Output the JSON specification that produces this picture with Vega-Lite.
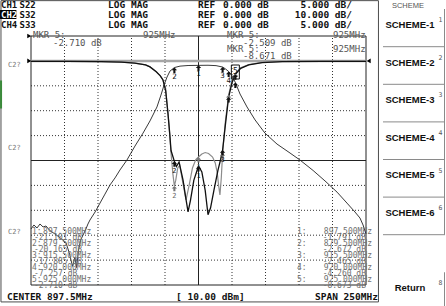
{
"$schema":"https://vega.github.io/schema/vega-lite/v6.json",
"width":446,"height":306,"autosize":"none","padding":0,"background":"white",
"config":{"view":{"stroke":null},"text":{"font":"DejaVu Sans Mono"}},
"datasets":{
"s22":[{"f":772.5,"db":-0.1},{"f":800,"db":-0.1},{"f":825,"db":-0.14},{"f":840,"db":-0.25},{"f":850,"db":-0.45},{"f":858,"db":-0.8},{"f":861.3,"db":-1.2},{"f":866,"db":-2.2},{"f":869,"db":-3.0},{"f":871,"db":-3.84},{"f":873,"db":-6.0},{"f":874.7,"db":-10.5},{"f":876,"db":-14.5},{"f":877,"db":-18.0},{"f":879.5,"db":-20.165,"m":2},{"f":881,"db":-21.2},{"f":883,"db":-20.3},{"f":886,"db":-24.0},{"f":888,"db":-27.5},{"f":889.7,"db":-30.3},{"f":891.5,"db":-28.0},{"f":894,"db":-24.0},{"f":897.5,"db":-21.101,"m":1},{"f":900,"db":-22.3},{"f":902.5,"db":-26.0},{"f":904.6,"db":-30.9},{"f":906.5,"db":-29.5},{"f":909,"db":-26.0},{"f":912,"db":-22.0},{"f":914,"db":-19.8},{"f":915.5,"db":-17.885,"m":3},{"f":917.5,"db":-13.0},{"f":920,"db":-7.257,"m":4},{"f":922.5,"db":-4.4},{"f":925,"db":-2.71,"m":5},{"f":929,"db":-1.5},{"f":935,"db":-0.8},{"f":945,"db":-0.35},{"f":960,"db":-0.15},{"f":990,"db":-0.1},{"f":1022.5,"db":-0.1}],
"s33":[{"f":772.5,"db":-0.1},{"f":800,"db":-0.1},{"f":825,"db":-0.14},{"f":840,"db":-0.25},{"f":850,"db":-0.45},{"f":858,"db":-0.8},{"f":861.3,"db":-1.2},{"f":866,"db":-2.2},{"f":869,"db":-3.0},{"f":871,"db":-3.84},{"f":873,"db":-5.5},{"f":874,"db":-8.5},{"f":875.5,"db":-13.0},{"f":877,"db":-18.5},{"f":878.5,"db":-23.0},{"f":879.5,"db":-25.1,"m":2},{"f":880.5,"db":-24.0},{"f":882,"db":-21.5},{"f":883.5,"db":-21.0},{"f":885.5,"db":-24.0},{"f":888.2,"db":-27.9},{"f":890.5,"db":-25.0},{"f":893,"db":-21.5},{"f":895.5,"db":-19.8},{"f":897.5,"db":-19.3,"m":1},{"f":900,"db":-18.7},{"f":902.5,"db":-18.4},{"f":905,"db":-18.6},{"f":908,"db":-19.3},{"f":910,"db":-20.5},{"f":911.5,"db":-22.5},{"f":912.5,"db":-25.0},{"f":913.5,"db":-26.9},{"f":914.5,"db":-23.5},{"f":915.5,"db":-18.5,"m":3},{"f":917.5,"db":-12.3},{"f":920,"db":-6.8,"m":4},{"f":922.5,"db":-3.9},{"f":925,"db":-2.509,"m":5},{"f":929,"db":-1.4},{"f":935,"db":-0.75},{"f":945,"db":-0.3},{"f":960,"db":-0.12},{"f":990,"db":-0.1},{"f":1022.5,"db":-0.1}],
"s32":[{"f":772.5,"db":-67.5},{"f":774.7,"db":-65.9},{"f":777,"db":-67.1},{"f":779.2,"db":-65.5},{"f":781.5,"db":-66.7},{"f":783.7,"db":-66.3},{"f":786.7,"db":-68.2},{"f":790.4,"db":-69.5},{"f":794.1,"db":-71.0},{"f":798.6,"db":-73.0},{"f":801,"db":-77.0},{"f":803.5,"db":-82.5},{"f":805.3,"db":-79.0},{"f":806.5,"db":-83.0},{"f":808,"db":-76.0},{"f":809.5,"db":-72.0},{"f":811.3,"db":-70.0},{"f":813.5,"db":-67.5},{"f":815,"db":-65.5},{"f":816.5,"db":-63.9},{"f":820.3,"db":-60.7},{"f":824,"db":-57.1},{"f":827.7,"db":-53.5},{"f":831.5,"db":-49.8},{"f":835.2,"db":-47.0},{"f":838.9,"db":-43.8},{"f":844.1,"db":-39.8},{"f":850.1,"db":-34.2},{"f":856.1,"db":-29.0},{"f":861.3,"db":-24.1},{"f":866.5,"db":-18.5},{"f":869.5,"db":-13.7},{"f":871.8,"db":-9.7},{"f":874,"db":-6.5},{"f":876.2,"db":-4.1},{"f":879.5,"db":-2.672,"m":2},{"f":883.7,"db":-2.1},{"f":889.7,"db":-1.85},{"f":897.5,"db":-1.791,"m":1},{"f":904.6,"db":-1.75},{"f":910.6,"db":-1.9},{"f":915.5,"db":-2.465,"m":3},{"f":917.6,"db":-3.2},{"f":920,"db":-4.26,"m":4},{"f":922.5,"db":-6.0},{"f":925,"db":-8.673,"m":5},{"f":928.5,"db":-13.3},{"f":933.7,"db":-18.5},{"f":939.7,"db":-23.7},{"f":947.1,"db":-29.0},{"f":956.1,"db":-33.4},{"f":965.8,"db":-37.0},{"f":973.2,"db":-39.8},{"f":983,"db":-44.0},{"f":991.9,"db":-48.2},{"f":1000.9,"db":-52.7},{"f":1008.3,"db":-57.1},{"f":1014.3,"db":-60.7},{"f":1018,"db":-63.1},{"f":1020.3,"db":-65.9},{"f":1022.5,"db":-69.5}],
"header":[{"line":1,"ch":"CH1","par":"S22","fmt":"LOG MAG","rl":"REF","ref":"0.000 dB","sc":"5.000 dB/","active":false},{"line":2,"ch":"CH2","par":"S32","fmt":"LOG MAG","rl":"REF","ref":"0.000 dB","sc":"10.000 dB/","active":true},{"line":3,"ch":"CH4","par":"S33","fmt":"LOG MAG","rl":"REF","ref":"0.000 dB","sc":"5.000 dB/","active":false}],
"listL":[{"n":1,"k":"1:","f":"897.500MHz","v":"-21.101 dB"},{"n":2,"k":"2:","f":"879.500MHz","v":"-20.165 dB"},{"n":3,"k":"3:","f":"915.500MHz","v":"-17.885 dB"},{"n":4,"k":"4:","f":"920.000MHz","v":"-7.257 dB"},{"n":5,"k":"5:","f":"925.000MHz","v":"-2.710 dB"}],
"listR":[{"n":1,"k":"1:","f":"897.500MHz","v":"-1.791 dB"},{"n":2,"k":"2:","f":"879.500MHz","v":"-2.672 dB"},{"n":3,"k":"3:","f":"915.500MHz","v":"-2.465 dB"},{"n":4,"k":"4:","f":"920.000MHz","v":"-4.260 dB"},{"n":5,"k":"5:","f":"925.000MHz","v":"-8.673 dB"}],
"keys":[{"slot":1,"label":"SCHEME-1","key":"1"},{"slot":2,"label":"SCHEME-2","key":"2"},{"slot":3,"label":"SCHEME-3","key":"3"},{"slot":4,"label":"SCHEME-4","key":"4"},{"slot":5,"label":"SCHEME-5","key":"5"},{"slot":6,"label":"SCHEME-6","key":"6"},{"slot":8,"label":"Return","key":"8"}],
"vgrid":[{"f":797.5},{"f":822.5},{"f":847.5},{"f":872.5},{"f":922.5},{"f":947.5},{"f":972.5},{"f":997.5}],
"hgrid":[{"db":-5},{"db":-10},{"db":-15},{"db":-25},{"db":-30},{"db":-35},{"db":-40}]
},
"layer":[
{"layer":[
 {"layer":[
  {"data":{"values":[{"part":"screen"}]},"mark":{"type":"rect","filled":false,"color":"#4d4d4d","strokeWidth":1},"encoding":{"x":{"datum":750.1,"type":"quantitative","scale":{"domain":[772.5,1022.5],"range":[31,366],"nice":false,"zero":false},"axis":null},"x2":{"datum":1031.8},"y":{"datum":12.1,"type":"quantitative","scale":{"domain":[-45,5],"range":[285,36],"nice":false,"zero":false},"axis":null},"y2":{"datum":-48.4}}},
  {"data":{"values":[{"part":"tab"}]},"mark":{"type":"rect","color":"#3a8a3a"},"encoding":{"x":{"datum":749.4,"type":"quantitative","scale":{"domain":[772.5,1022.5],"range":[31,366],"nice":false,"zero":false},"axis":null},"x2":{"datum":750.9},"y":{"datum":-3.96,"type":"quantitative","scale":{"domain":[-45,5],"range":[285,36],"nice":false,"zero":false},"axis":null},"y2":{"datum":-9.56}}},
  {"data":{"name":"vgrid"},"mark":{"type":"rule","color":"#333","strokeDash":[1,2],"strokeWidth":1},"encoding":{"x":{"field":"f","type":"quantitative","scale":{"domain":[772.5,1022.5],"range":[31,366],"nice":false,"zero":false},"axis":null},"y":{"datum":-45,"type":"quantitative","scale":{"domain":[-45,5],"range":[285,36],"nice":false,"zero":false},"axis":null},"y2":{"datum":5}}},
  {"data":{"name":"hgrid"},"mark":{"type":"rule","color":"#333","strokeDash":[1,2],"strokeWidth":1},"encoding":{"y":{"field":"db","type":"quantitative","scale":{"domain":[-45,5],"range":[285,36],"nice":false,"zero":false},"axis":null},"x":{"datum":772.5,"type":"quantitative","scale":{"domain":[772.5,1022.5],"range":[31,366],"nice":false,"zero":false},"axis":null},"x2":{"datum":1022.5}}},
  {"data":{"values":[{"f":897.5}]},"mark":{"type":"rule","color":"#222","strokeWidth":1},"encoding":{"x":{"field":"f","type":"quantitative","scale":{"domain":[772.5,1022.5],"range":[31,366],"nice":false,"zero":false},"axis":null},"y":{"datum":-45,"type":"quantitative","scale":{"domain":[-45,5],"range":[285,36],"nice":false,"zero":false},"axis":null},"y2":{"datum":5}}},
  {"data":{"values":[{"db":-20}]},"mark":{"type":"rule","color":"#222","strokeWidth":1},"encoding":{"y":{"field":"db","type":"quantitative","scale":{"domain":[-45,5],"range":[285,36],"nice":false,"zero":false},"axis":null},"x":{"datum":772.5,"type":"quantitative","scale":{"domain":[772.5,1022.5],"range":[31,366],"nice":false,"zero":false},"axis":null},"x2":{"datum":1022.5}}},
  {"data":{"values":[{"part":"graticule"}]},"mark":{"type":"rect","filled":false,"color":"#222","strokeWidth":1},"encoding":{"x":{"datum":772.5,"type":"quantitative","scale":{"domain":[772.5,1022.5],"range":[31,366],"nice":false,"zero":false},"axis":null},"x2":{"datum":1022.5},"y":{"datum":-45,"type":"quantitative","scale":{"domain":[-45,5],"range":[285,36],"nice":false,"zero":false},"axis":null},"y2":{"datum":5}}},
  {"data":{"values":[{"db":0}]},"mark":{"type":"rule","color":"#a6a6a6","strokeWidth":2.5},"encoding":{"y":{"field":"db","type":"quantitative","scale":{"domain":[-45,5],"range":[285,36],"nice":false,"zero":false},"axis":null},"x":{"datum":772.5,"type":"quantitative","scale":{"domain":[772.5,1022.5],"range":[31,366],"nice":false,"zero":false},"axis":null},"x2":{"datum":1022.5}}},
  {"data":{"values":[{"db":0},{"db":5}]},"mark":{"type":"point","shape":"triangle-right","filled":true,"color":"black","size":22,"opacity":1},"encoding":{"y":{"field":"db","type":"quantitative","scale":{"domain":[-45,5],"range":[285,36],"nice":false,"zero":false},"axis":null},"x":{"datum":771.2,"type":"quantitative","scale":{"domain":[772.5,1022.5],"range":[31,366],"nice":false,"zero":false},"axis":null}}},
  {"data":{"values":[{"db":0}]},"mark":{"type":"point","shape":"triangle-left","filled":true,"color":"black","size":22,"opacity":1},"encoding":{"y":{"field":"db","type":"quantitative","scale":{"domain":[-45,5],"range":[285,36],"nice":false,"zero":false},"axis":null},"x":{"datum":1024.5,"type":"quantitative","scale":{"domain":[772.5,1022.5],"range":[31,366],"nice":false,"zero":false},"axis":null}}},
  {"data":{"name":"s33"},"mark":{"type":"line","color":"#8c8c8c","strokeWidth":1.2},"encoding":{"x":{"field":"f","type":"quantitative","scale":{"domain":[772.5,1022.5],"range":[31,366],"nice":false,"zero":false},"axis":null},"y":{"field":"db","type":"quantitative","scale":{"domain":[-45,5],"range":[285,36],"nice":false,"zero":false},"axis":null}}},
  {"data":{"name":"s22"},"mark":{"type":"line","color":"#111","strokeWidth":1.3},"encoding":{"x":{"field":"f","type":"quantitative","scale":{"domain":[772.5,1022.5],"range":[31,366],"nice":false,"zero":false},"axis":null},"y":{"field":"db","type":"quantitative","scale":{"domain":[-45,5],"range":[285,36],"nice":false,"zero":false},"axis":null}}},
  {"data":{"name":"s33"},"transform":[{"filter":"datum.m"}],"mark":{"type":"point","shape":"M0,0L-0.9,0.9L-0.35,0.9L-0.35,1.8L0.35,1.8L0.35,0.9L0.9,0.9Z","filled":true,"color":"#777","size":36,"opacity":1},"encoding":{"x":{"field":"f","type":"quantitative","scale":{"domain":[772.5,1022.5],"range":[31,366],"nice":false,"zero":false},"axis":null},"y":{"field":"db","type":"quantitative","scale":{"domain":[-45,5],"range":[285,36],"nice":false,"zero":false},"axis":null}}},
  {"data":{"name":"s33"},"transform":[{"filter":"datum.m && datum.m <= 2"}],"mark":{"type":"text","fontSize":7,"color":"#666","baseline":"top","dy":6},"encoding":{"x":{"field":"f","type":"quantitative","scale":{"domain":[772.5,1022.5],"range":[31,366],"nice":false,"zero":false},"axis":null},"y":{"field":"db","type":"quantitative","scale":{"domain":[-45,5],"range":[285,36],"nice":false,"zero":false},"axis":null},"text":{"field":"m"}}},
  {"data":{"name":"s22"},"transform":[{"filter":"datum.m"}],"mark":{"type":"point","shape":"M0,0L-0.9,0.9L-0.35,0.9L-0.35,1.8L0.35,1.8L0.35,0.9L0.9,0.9Z","filled":true,"color":"#111","size":36,"opacity":1},"encoding":{"x":{"field":"f","type":"quantitative","scale":{"domain":[772.5,1022.5],"range":[31,366],"nice":false,"zero":false},"axis":null},"y":{"field":"db","type":"quantitative","scale":{"domain":[-45,5],"range":[285,36],"nice":false,"zero":false},"axis":null}}},
  {"data":{"name":"s22"},"transform":[{"filter":"datum.m && datum.m < 4"}],"mark":{"type":"text","fontSize":7,"color":"#111","baseline":"top","dy":6},"encoding":{"x":{"field":"f","type":"quantitative","scale":{"domain":[772.5,1022.5],"range":[31,366],"nice":false,"zero":false},"axis":null},"y":{"field":"db","type":"quantitative","scale":{"domain":[-45,5],"range":[285,36],"nice":false,"zero":false},"axis":null},"text":{"field":"m"}}},
  {"data":{"values":[{"m":5}]},"mark":{"type":"point","shape":"M-0.8,-1.4H0.8V1.4H-0.8Z","filled":false,"color":"#111","size":100,"opacity":1,"strokeWidth":1},"encoding":{"x":{"datum":925,"type":"quantitative","scale":{"domain":[772.5,1022.5],"range":[31,366],"nice":false,"zero":false},"axis":null},"y":{"datum":-2.23,"type":"quantitative","scale":{"domain":[-45,5],"range":[285,36],"nice":false,"zero":false},"axis":null}}},
  {"data":{"values":[{"m":5}]},"mark":{"type":"text","fontSize":8,"color":"#111","baseline":"middle"},"encoding":{"x":{"datum":925,"type":"quantitative","scale":{"domain":[772.5,1022.5],"range":[31,366],"nice":false,"zero":false},"axis":null},"y":{"datum":-2.23,"type":"quantitative","scale":{"domain":[-45,5],"range":[285,36],"nice":false,"zero":false},"axis":null},"text":{"field":"m"}}},
  {"data":{"values":[{"t":"MKR  5:"}]},"mark":{"type":"text","align":"left","baseline":"middle","fontSize":9,"color":"#555"},"encoding":{"x":{"datum":774.0,"type":"quantitative","scale":{"domain":[772.5,1022.5],"range":[31,366],"nice":false,"zero":false},"axis":null},"y":{"datum":5.2,"type":"quantitative","scale":{"domain":[-45,5],"range":[285,36],"nice":false,"zero":false},"axis":null},"text":{"field":"t"}}},
  {"data":{"values":[{"t":"925MHz"}]},"mark":{"type":"text","align":"left","baseline":"middle","fontSize":9,"color":"#555"},"encoding":{"x":{"datum":856.1,"type":"quantitative","scale":{"domain":[772.5,1022.5],"range":[31,366],"nice":false,"zero":false},"axis":null},"y":{"datum":5.2,"type":"quantitative","scale":{"domain":[-45,5],"range":[285,36],"nice":false,"zero":false},"axis":null},"text":{"field":"t"}}},
  {"data":{"values":[{"t":"-2.710 dB"}]},"mark":{"type":"text","align":"left","baseline":"middle","fontSize":9,"color":"#555"},"encoding":{"x":{"datum":788.9,"type":"quantitative","scale":{"domain":[772.5,1022.5],"range":[31,366],"nice":false,"zero":false},"axis":null},"y":{"datum":3.59,"type":"quantitative","scale":{"domain":[-45,5],"range":[285,36],"nice":false,"zero":false},"axis":null},"text":{"field":"t"}}},
  {"data":{"values":[{"t":["MKR  5:","MKR  5:"]}]},"mark":{"type":"text","align":"left","baseline":"middle","fontSize":9,"color":"#555","lineHeight":13.5},"encoding":{"x":{"datum":918.8,"type":"quantitative","scale":{"domain":[772.5,1022.5],"range":[31,366],"nice":false,"zero":false},"axis":null},"y":{"datum":5.2,"type":"quantitative","scale":{"domain":[-45,5],"range":[285,36],"nice":false,"zero":false},"axis":null},"text":{"field":"t"}}},
  {"data":{"values":[{"t":["925MHz","925MHz"]}]},"mark":{"type":"text","align":"left","baseline":"middle","fontSize":9,"color":"#555","lineHeight":13.5},"encoding":{"x":{"datum":997.9,"type":"quantitative","scale":{"domain":[772.5,1022.5],"range":[31,366],"nice":false,"zero":false},"axis":null},"y":{"datum":5.2,"type":"quantitative","scale":{"domain":[-45,5],"range":[285,36],"nice":false,"zero":false},"axis":null},"text":{"field":"t"}}},
  {"data":{"values":[{"t":["-2.509 dB","-8.671 dB"]}]},"mark":{"type":"text","align":"left","baseline":"middle","fontSize":9,"color":"#555","lineHeight":12.5},"encoding":{"x":{"datum":930.7,"type":"quantitative","scale":{"domain":[772.5,1022.5],"range":[31,366],"nice":false,"zero":false},"axis":null},"y":{"datum":3.59,"type":"quantitative","scale":{"domain":[-45,5],"range":[285,36],"nice":false,"zero":false},"axis":null},"text":{"field":"t"}}},
  {"data":{"values":[{"t":"CENTER 897.5MHz"}]},"mark":{"type":"text","align":"left","baseline":"middle","fontSize":9.5,"fontWeight":"bold","color":"#111"},"encoding":{"x":{"datum":754.6,"type":"quantitative","scale":{"domain":[772.5,1022.5],"range":[31,366],"nice":false,"zero":false},"axis":null},"y":{"datum":-47.41,"type":"quantitative","scale":{"domain":[-45,5],"range":[285,36],"nice":false,"zero":false},"axis":null},"text":{"field":"t"}}},
  {"data":{"values":[{"t":"[ 10.00 dBm]"}]},"mark":{"type":"text","align":"left","baseline":"middle","fontSize":9.5,"fontWeight":"bold","color":"#111"},"encoding":{"x":{"datum":880.7,"type":"quantitative","scale":{"domain":[772.5,1022.5],"range":[31,366],"nice":false,"zero":false},"axis":null},"y":{"datum":-47.41,"type":"quantitative","scale":{"domain":[-45,5],"range":[285,36],"nice":false,"zero":false},"axis":null},"text":{"field":"t"}}},
  {"data":{"values":[{"t":"SPAN 250MHz"}]},"mark":{"type":"text","align":"right","baseline":"middle","fontSize":9.5,"fontWeight":"bold","color":"#111"},"encoding":{"x":{"datum":1031.4,"type":"quantitative","scale":{"domain":[772.5,1022.5],"range":[31,366],"nice":false,"zero":false},"axis":null},"y":{"datum":-47.41,"type":"quantitative","scale":{"domain":[-45,5],"range":[285,36],"nice":false,"zero":false},"axis":null},"text":{"field":"t"}}},
  {"data":{"values":[{"t":["C2?","C2?","C2?"]}]},"mark":{"type":"text","align":"left","baseline":"middle","fontSize":7,"color":"#777","lineHeight":83.5},"encoding":{"x":{"datum":755.3,"type":"quantitative","scale":{"domain":[772.5,1022.5],"range":[31,366],"nice":false,"zero":false},"axis":null},"y":{"datum":-0.82,"type":"quantitative","scale":{"domain":[-45,5],"range":[285,36],"nice":false,"zero":false},"axis":null},"text":{"field":"t"}}},
  {"data":{"values":[{"t":"SCHEME"}]},"mark":{"type":"text","align":"center","baseline":"middle","fontSize":7.5,"color":"#555","font":"Liberation Sans"},"encoding":{"x":{"datum":1053.8,"type":"quantitative","scale":{"domain":[772.5,1022.5],"range":[31,366],"nice":false,"zero":false},"axis":null},"y":{"datum":11.0,"type":"quantitative","scale":{"domain":[-45,5],"range":[285,36],"nice":false,"zero":false},"axis":null},"text":{"field":"t"}}}
 ]},
 {"data":{"name":"s32"},"layer":[
  {"mark":{"type":"line","color":"#222","strokeWidth":0.9},"encoding":{"x":{"field":"f","type":"quantitative","scale":{"domain":[772.5,1022.5],"range":[31,366],"nice":false,"zero":false},"axis":null},"y":{"field":"db","type":"quantitative","scale":{"domain":[-90,10],"range":[285,36],"nice":false,"zero":false},"axis":null}}},
  {"transform":[{"filter":"datum.m"}],"mark":{"type":"point","shape":"M0,0L-0.9,0.9L-0.35,0.9L-0.35,1.8L0.35,1.8L0.35,0.9L0.9,0.9Z","filled":true,"color":"#111","size":36,"opacity":1},"encoding":{"x":{"field":"f","type":"quantitative","scale":{"domain":[772.5,1022.5],"range":[31,366],"nice":false,"zero":false},"axis":null},"y":{"field":"db","type":"quantitative","scale":{"domain":[-90,10],"range":[285,36],"nice":false,"zero":false},"axis":null}}},
  {"transform":[{"filter":"datum.m && datum.m < 5"}],"mark":{"type":"text","fontSize":7.5,"color":"#111","baseline":"top","dy":5},"encoding":{"x":{"field":"f","type":"quantitative","scale":{"domain":[772.5,1022.5],"range":[31,366],"nice":false,"zero":false},"axis":null},"y":{"field":"db","type":"quantitative","scale":{"domain":[-90,10],"range":[285,36],"nice":false,"zero":false},"axis":null},"text":{"field":"m"}}}
 ]},
 {"data":{"name":"header"},"layer":[
  {"transform":[{"filter":"datum.active"}],"mark":{"type":"rect","color":"black"},"encoding":{"x":{"datum":749.4,"type":"quantitative","scale":{"domain":[772.5,1022.5],"range":[31,366],"nice":false,"zero":false},"axis":null},"x2":{"datum":761.6},"y":{"datum":1.55,"type":"quantitative","scale":{"domain":[1,3],"range":[4.5,24.5],"nice":false,"zero":false},"axis":null},"y2":{"datum":2.45}}},
  {"mark":{"type":"text","align":"left","baseline":"middle","fontSize":9,"fontWeight":"bold"},"encoding":{"x":{"datum":750.1,"type":"quantitative","scale":{"domain":[772.5,1022.5],"range":[31,366],"nice":false,"zero":false},"axis":null},"y":{"field":"line","type":"quantitative","scale":{"domain":[1,3],"range":[4.5,24.5],"nice":false,"zero":false},"axis":null},"text":{"field":"ch"},"color":{"condition":{"test":"datum.active","value":"white"},"value":"#111"}}},
  {"mark":{"type":"text","align":"left","baseline":"middle","fontSize":9,"fontWeight":"bold","color":"#111"},"encoding":{"x":{"datum":763.9,"type":"quantitative","scale":{"domain":[772.5,1022.5],"range":[31,366],"nice":false,"zero":false},"axis":null},"y":{"field":"line","type":"quantitative","scale":{"domain":[1,3],"range":[4.5,24.5],"nice":false,"zero":false},"axis":null},"text":{"field":"par"}}},
  {"mark":{"type":"text","align":"left","baseline":"middle","fontSize":9.5,"fontWeight":"bold","color":"#111"},"encoding":{"x":{"datum":830.0,"type":"quantitative","scale":{"domain":[772.5,1022.5],"range":[31,366],"nice":false,"zero":false},"axis":null},"y":{"field":"line","type":"quantitative","scale":{"domain":[1,3],"range":[4.5,24.5],"nice":false,"zero":false},"axis":null},"text":{"field":"fmt"}}},
  {"mark":{"type":"text","align":"left","baseline":"middle","fontSize":9.5,"fontWeight":"bold","color":"#111"},"encoding":{"x":{"datum":897.1,"type":"quantitative","scale":{"domain":[772.5,1022.5],"range":[31,366],"nice":false,"zero":false},"axis":null},"y":{"field":"line","type":"quantitative","scale":{"domain":[1,3],"range":[4.5,24.5],"nice":false,"zero":false},"axis":null},"text":{"field":"rl"}}},
  {"mark":{"type":"text","align":"left","baseline":"middle","fontSize":9.5,"fontWeight":"bold","color":"#111"},"encoding":{"x":{"datum":915.8,"type":"quantitative","scale":{"domain":[772.5,1022.5],"range":[31,366],"nice":false,"zero":false},"axis":null},"y":{"field":"line","type":"quantitative","scale":{"domain":[1,3],"range":[4.5,24.5],"nice":false,"zero":false},"axis":null},"text":{"field":"ref"}}},
  {"mark":{"type":"text","align":"right","baseline":"middle","fontSize":9.5,"fontWeight":"bold","color":"#111"},"encoding":{"x":{"datum":1012.05,"type":"quantitative","scale":{"domain":[772.5,1022.5],"range":[31,366],"nice":false,"zero":false},"axis":null},"y":{"field":"line","type":"quantitative","scale":{"domain":[1,3],"range":[4.5,24.5],"nice":false,"zero":false},"axis":null},"text":{"field":"sc"}}}
 ]},
 {"layer":[
  {"data":{"name":"listL"},"mark":{"type":"text","align":"left","baseline":"middle","fontSize":8,"color":"#707070"},"encoding":{"x":{"datum":773.2,"type":"quantitative","scale":{"domain":[772.5,1022.5],"range":[31,366],"nice":false,"zero":false},"axis":null},"y":{"field":"n","type":"quantitative","scale":{"domain":[1,5],"range":[231.5,279.5],"nice":false,"zero":false},"axis":null},"text":{"field":"k"}}},
  {"data":{"name":"listL"},"mark":{"type":"text","align":"left","baseline":"middle","fontSize":8,"color":"#707070"},"encoding":{"x":{"datum":781.5,"type":"quantitative","scale":{"domain":[772.5,1022.5],"range":[31,366],"nice":false,"zero":false},"axis":null},"y":{"field":"n","type":"quantitative","scale":{"domain":[1,5],"range":[231.5,279.5],"nice":false,"zero":false},"axis":null},"text":{"field":"f"}}},
  {"data":{"name":"listL"},"mark":{"type":"text","align":"left","baseline":"middle","fontSize":8,"color":"#707070","dy":6},"encoding":{"x":{"datum":774.7,"type":"quantitative","scale":{"domain":[772.5,1022.5],"range":[31,366],"nice":false,"zero":false},"axis":null},"y":{"field":"n","type":"quantitative","scale":{"domain":[1,5],"range":[231.5,279.5],"nice":false,"zero":false},"axis":null},"text":{"field":"v"}}},
  {"data":{"name":"listR"},"mark":{"type":"text","align":"left","baseline":"middle","fontSize":8,"color":"#707070"},"encoding":{"x":{"datum":971.0,"type":"quantitative","scale":{"domain":[772.5,1022.5],"range":[31,366],"nice":false,"zero":false},"axis":null},"y":{"field":"n","type":"quantitative","scale":{"domain":[1,5],"range":[231.5,279.5],"nice":false,"zero":false},"axis":null},"text":{"field":"k"}}},
  {"data":{"name":"listR"},"mark":{"type":"text","align":"right","baseline":"middle","fontSize":8,"color":"#707070"},"encoding":{"x":{"datum":1027.0,"type":"quantitative","scale":{"domain":[772.5,1022.5],"range":[31,366],"nice":false,"zero":false},"axis":null},"y":{"field":"n","type":"quantitative","scale":{"domain":[1,5],"range":[231.5,279.5],"nice":false,"zero":false},"axis":null},"text":{"field":"f"}}},
  {"data":{"name":"listR"},"mark":{"type":"text","align":"right","baseline":"middle","fontSize":8,"color":"#707070","dy":6},"encoding":{"x":{"datum":1022.5,"type":"quantitative","scale":{"domain":[772.5,1022.5],"range":[31,366],"nice":false,"zero":false},"axis":null},"y":{"field":"n","type":"quantitative","scale":{"domain":[1,5],"range":[231.5,279.5],"nice":false,"zero":false},"axis":null},"text":{"field":"v"}}}
 ]}
],"resolve":{"scale":{"y":"independent"}}},
{"data":{"name":"keys"},"layer":[
 {"transform":[{"filter":"datum.slot < 8"}],"mark":{"type":"rule","color":"#8a8a8a","strokeWidth":1},"encoding":{"x":{"datum":0,"type":"quantitative","scale":{"domain":[0,1],"range":[383,445],"nice":false,"zero":false},"axis":null},"x2":{"datum":1},"y":{"field":"slot","type":"ordinal","bandPosition":1,"scale":{"type":"band","domain":[1,2,3,4,5,6,7,8],"range":[9.1,309.9],"paddingInner":0,"paddingOuter":0},"axis":null}}},
 {"mark":{"type":"rect","color":"#8a8a8a"},"encoding":{"x":{"datum":0.984,"type":"quantitative","scale":{"domain":[0,1],"range":[383,445],"nice":false,"zero":false},"axis":null},"x2":{"datum":1},"y":{"field":"slot","type":"ordinal","scale":{"type":"band","domain":[1,2,3,4,5,6,7,8],"range":[9.1,309.9],"paddingInner":0,"paddingOuter":0},"axis":null}}},
 {"mark":{"type":"text","font":"Liberation Sans","fontWeight":"bold","fontSize":9.5,"color":"#111","baseline":"middle","dy":-3},"encoding":{"x":{"datum":0.435,"type":"quantitative","scale":{"domain":[0,1],"range":[383,445],"nice":false,"zero":false},"axis":null},"y":{"field":"slot","type":"ordinal","bandPosition":0.5,"scale":{"type":"band","domain":[1,2,3,4,5,6,7,8],"range":[9.1,309.9],"paddingInner":0,"paddingOuter":0},"axis":null},"text":{"field":"label"}}},
 {"mark":{"type":"text","fontSize":6.5,"color":"#555","baseline":"middle","dy":11},"encoding":{"x":{"datum":0.925,"type":"quantitative","scale":{"domain":[0,1],"range":[383,445],"nice":false,"zero":false},"axis":null},"y":{"field":"slot","type":"ordinal","bandPosition":0,"scale":{"type":"band","domain":[1,2,3,4,5,6,7,8],"range":[9.1,309.9],"paddingInner":0,"paddingOuter":0},"axis":null},"text":{"field":"key"}}}
]}
],
"resolve":{"scale":{"x":"independent","y":"independent"}}
}
